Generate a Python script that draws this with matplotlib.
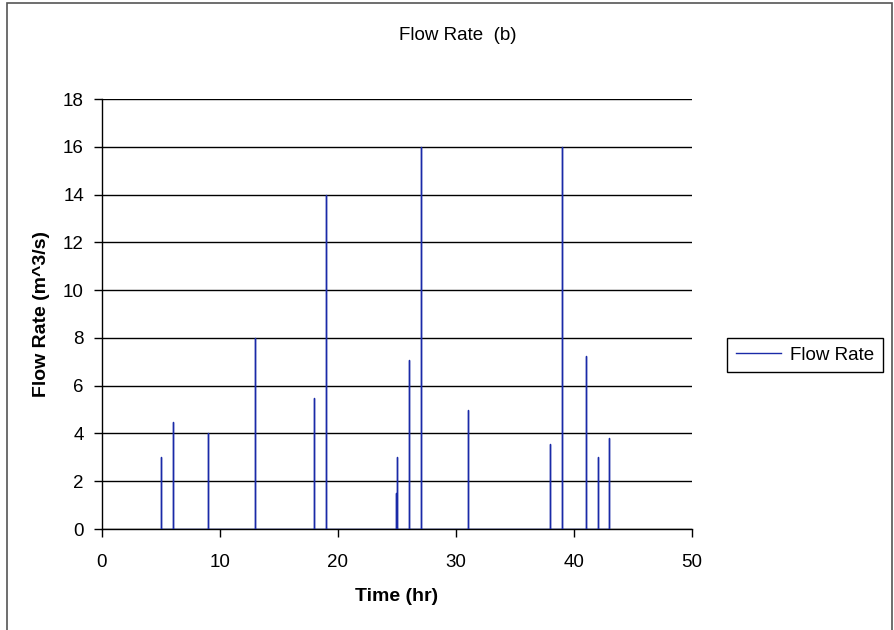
import matplotlib

matplotlib.use("Agg")
import matplotlib.pyplot as plt
from matplotlib.patches import Rectangle

# spike events: time (hr) and peak flow rate (m^3/s)
times = [5, 6, 9, 13, 18, 19, 24.9, 25, 26, 27, 31, 38, 39, 41, 42, 43]
flows = [3.0, 4.5, 4.0, 8.0, 5.5, 14.0, 1.5, 3.0, 7.07, 16.0, 5.0, 3.57, 16.0, 7.25, 3.0, 3.8]

x_ticks = [0, 10, 20, 30, 40, 50]
y_ticks = [0, 2, 4, 6, 8, 10, 12, 14, 16, 18]

plt.rcParams["font.family"] = ["Liberation Sans", "DejaVu Sans"]

fig = plt.figure(figsize=(8.95, 6.3), dpi=100)
ax = fig.add_axes([102 / 895, 1 - 529 / 630, 590 / 895, 430 / 630])

# outer chart frame
fig.patches.append(
    Rectangle((7 / 895, -0.05), 885 / 895, 1.05 - 3 / 630, transform=fig.transFigure,
              fill=False, edgecolor="#555555", linewidth=1.2)
)

# build the spike path: up and back down at each time
xs, ys = [], []
for t, v in zip(times, flows):
    xs += [t, t, t]
    ys += [0, v, 0]
ax.plot(xs, ys, color="#1a2aa8", linewidth=1.0, label="Flow Rate", zorder=3)

ax.set_xlim(0, 50)
ax.set_ylim(0, 18)
ax.set_xticks(x_ticks)
ax.set_yticks(y_ticks)
ax.yaxis.grid(True, color="black", linewidth=1.0)
ax.set_axisbelow(True)
for side in ("top", "right"):
    ax.spines[side].set_visible(False)
for side in ("left", "bottom"):
    ax.spines[side].set_color("black")
    ax.spines[side].set_linewidth(1.0)
ax.tick_params(axis="both", direction="out", length=6, width=1, labelsize=13.5,
               colors="black")
ax.tick_params(axis="y", pad=7)
ax.tick_params(axis="x", pad=12)

fig.text(458 / 895, 1 - 36 / 630, "Flow Rate  (b)", ha="center", va="center",
         fontsize=13.5)
ax.set_xlabel("Time (hr)", fontsize=14, fontweight="bold")
ax.set_ylabel("Flow Rate (m^3/s)", fontsize=14, fontweight="bold")
ax.xaxis.set_label_coords(0.5, (529 - 588) / 430)
ax.yaxis.set_label_coords((50 - 102) / 590, 0.5)

fig.legend(loc="center", bbox_to_anchor=(805 / 895, 1 - 355 / 630), fontsize=13.5,
           frameon=True, fancybox=False, edgecolor="black", framealpha=1,
           handlelength=2.4, borderpad=0.45, handletextpad=0.5)

fig.savefig("out.png", dpi=100)
